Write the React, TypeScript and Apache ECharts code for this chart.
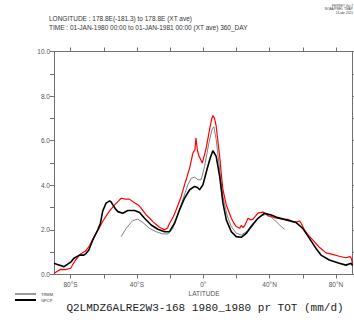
import React, { useEffect, useRef } from "react";
import * as echarts from "echarts";

const modelLat = [-90, -88, -86, -83, -80, -77, -74, -71, -68.5, -66.5, -63, -60.5, -57, -53.5, -51, -49.5, -47, -44.5, -41.5, -39, -37.4, -34.4, -32, -30.4, -28, -26.4, -23.3, -21.5, -20.3, -18, -16.3, -13.3, -11, -10.3, -8.2, -6.2, -5, -4.4, -3.5, -2.5, -0.6, 0.5, 1.8, 3.8, 5, 5.8, 6.8, 7.8, 8.8, 9.9, 11, 11.9, 13.9, 15.5, 16.9, 18.5, 19.9, 21.9, 23, 24, 25, 27, 28.5, 30, 33, 36, 39, 41, 43, 48, 51, 54, 56, 58, 59, 61, 63.5, 66, 68, 70, 74, 78, 82, 86, 88.5, 89.3, 90];
const modelPr = [0.05, 0.15, 0.23, 0.22, 0.28, 0.65, 0.92, 1.05, 1.3, 1.6, 2.05, 2.4, 2.8, 3.12, 3.3, 3.42, 3.38, 3.38, 3.22, 3.1, 2.97, 2.67, 2.5, 2.37, 2.22, 2.12, 2.0, 2.1, 2.3, 2.6, 2.9, 3.5, 4.1, 4.25, 4.78, 5.45, 5.6, 6.13, 5.55, 5.3, 5.0, 5.3, 5.68, 6.5, 6.95, 7.13, 7.0, 6.65, 6.0, 5.3, 4.4, 3.8, 3.12, 2.8, 2.52, 2.3, 2.15, 2.07, 2.2, 2.1, 2.2, 2.52, 2.45, 2.48, 2.75, 2.8, 2.63, 2.6, 2.55, 2.48, 2.47, 2.37, 2.35, 2.4, 2.3, 2.0, 1.75, 1.55, 1.38, 1.22, 0.97, 0.9, 0.82, 0.75, 0.8, 0.72, 0.5];

const gpcpLat = [-90, -88, -86, -84, -82, -79.7, -78, -74.6, -72, -70.6, -69, -66.6, -63.6, -62, -60.6, -58.6, -56.5, -55.5, -54.5, -53, -51.5, -48.5, -45.5, -41.4, -38.4, -35.4, -31.4, -27.4, -23.3, -20.3, -17.3, -14.3, -11.3, -8.2, -5.2, -3.5, -2.2, -0.2, 2.2, 4.2, 5.8, 7.8, 9.9, 11.9, 13.9, 16.9, 19.9, 22.9, 26, 29, 33, 37, 41, 45, 50, 56, 60, 64, 68, 71, 76, 82, 86, 89.3, 90];
const gpcpPr = [0.5, 0.45, 0.4, 0.35, 0.45, 0.57, 0.73, 0.87, 0.87, 0.95, 1.1, 1.55, 2.0, 2.3, 2.85, 3.2, 3.3, 3.25, 3.12, 2.95, 2.82, 2.75, 2.87, 2.87, 2.78, 2.52, 2.22, 2.03, 1.92, 1.92, 2.3, 2.9, 3.42, 3.8, 3.95, 3.9, 3.8, 4.02, 4.7, 5.22, 5.55, 5.3, 4.4, 3.2, 2.45, 1.92, 1.7, 1.67, 1.85, 2.15, 2.52, 2.75, 2.67, 2.55, 2.45, 2.33, 2.07, 1.62, 1.17, 0.87, 0.65, 0.5, 0.42, 0.5, 0.4];

const trmmLat = [-49.5, -46.5, -42.5, -39.4, -36.4, -32.4, -28.4, -24.3, -21.3, -18.3, -15.3, -12.3, -9.3, -7.2, -5.2, -3.2, -1.2, 0.8, 3.4, 5.4, 6.4, 7.8, 9.9, 11.9, 14.3, 16.9, 19.9, 22.9, 26, 30, 34, 38, 41, 44, 47, 49];
const trmmPr = [1.7, 2.07, 2.42, 2.48, 2.33, 2.07, 1.92, 1.82, 1.82, 2.07, 2.67, 3.35, 4.02, 4.32, 4.37, 4.25, 4.25, 4.85, 5.9, 6.53, 6.62, 6.05, 4.7, 3.5, 2.67, 2.15, 1.85, 1.77, 1.92, 2.3, 2.6, 2.7, 2.57, 2.37, 2.15, 2.03];

const xTickValues = [-80, -60, -40, -20, 0, 20, 40, 60, 80];
const xLabelValues = [-80, -40, 0, 40, 80];

const headerLines = [
  "LONGITUDE : 178.8E(-181.3) to 178.8E (XT ave)",
  "TIME : 01-JAN-1980 00:00 to 01-JAN-1981 00:00 (XT ave) 360_DAY",
];
const stampLines = ["FERRET Ver.7", "NOAA/PMEL TMAP", "14-abr-2021"];
const chartTitle = "Q2LMDZ6ALRE2W3-168 1980_1980 pr TOT (mm/d)";
const legendNames = ["TRMM", "GPCP"];

const pairs = (xs: number[], ys: number[]) => xs.map((x, i) => [x, ys[i]]);

const latFmt = (v: number) => {
  if (v === 0) return "0°";
  return Math.abs(v) + "°" + (v < 0 ? "S" : "N");
};

const axisGray = "#707070";
const labelGray = "#555";

export default function App() {
  const ref = useRef<HTMLDivElement>(null);
  useEffect(() => {
    if (!ref.current) return;
    const chart = echarts.init(ref.current, null, { renderer: "svg" });
    const baseX = {
      type: "value" as const,
      min: -90,
      max: 90,
      splitLine: { show: false },
      axisLine: { show: true, onZero: false, lineStyle: { color: axisGray, width: 1 } },
    };
    const baseY = {
      type: "value" as const,
      min: 0,
      max: 10,
      interval: 1,
      splitLine: { show: false },
      axisLine: { show: true, onZero: false, lineStyle: { color: axisGray, width: 1 } },
      axisTick: { show: true, length: 4, lineStyle: { color: axisGray } },
    };
    chart.setOption({
      animation: false,
      backgroundColor: "#fff",
      grid: { left: 54, right: 1.5, top: 51.5, bottom: 45.5 },
      xAxis: [
        {
          ...baseX,
          position: "bottom",
          axisTick: { show: true, length: 4, customValues: xTickValues, lineStyle: { color: axisGray } },
          axisLabel: {
            customValues: xLabelValues,
            formatter: (v: number) => latFmt(v),
            fontSize: 6.5,
            color: labelGray,
            fontFamily: "Liberation Sans",
            margin: 6,
          },
        },
        {
          ...baseX,
          position: "top",
          axisTick: { show: true, length: 4, customValues: xTickValues, lineStyle: { color: axisGray } },
          axisLabel: { show: false },
        },
      ],
      yAxis: [
        {
          ...baseY,
          position: "left",
          axisLabel: {
            formatter: (v: number) => (v % 2 === 0 ? v.toFixed(1) : ""),
            fontSize: 6.5,
            color: labelGray,
            fontFamily: "Liberation Sans",
            margin: 4,
          },
        },
        {
          ...baseY,
          position: "right",
          axisLabel: { show: false },
        },
      ],
      series: [
        {
          name: "MODEL",
          type: "line",
          data: pairs(modelLat, modelPr),
          showSymbol: false,
          lineStyle: { color: "#ff0000", width: 1.2 },
          itemStyle: { color: "#ff0000" },
          z: 3,
        },
        {
          name: legendNames[0],
          type: "line",
          data: pairs(trmmLat, trmmPr),
          showSymbol: false,
          lineStyle: { color: "#606060", width: 0.8 },
          itemStyle: { color: "#606060" },
          z: 4,
        },
        {
          name: legendNames[1],
          type: "line",
          data: pairs(gpcpLat, gpcpPr),
          showSymbol: false,
          lineStyle: { color: "#000", width: 1.6 },
          itemStyle: { color: "#000" },
          z: 5,
        },
      ],
      graphic: [
        ...headerLines.map((t, i) => ({
          type: "text",
          left: 49,
          top: 15 + i * 8.5,
          style: { text: t, fontSize: 6.5, fill: "#333", fontFamily: "Liberation Sans" },
        })),
        ...stampLines.map((t, i) => ({
          type: "text",
          right: 1,
          top: 4 + i * 3.5,
          style: { text: t, fontSize: 3.2, fill: "#444", fontFamily: "Liberation Sans", align: "right" },
        })),
        {
          type: "text",
          x: 204,
          y: 293,
          style: { text: "LATITUDE", fontSize: 6.5, fill: labelGray, fontFamily: "Liberation Sans", align: "center", verticalAlign: "middle" },
        },
        {
          type: "text",
          x: 205,
          y: 308,
          style: { text: chartTitle, fontSize: 11, fill: "#222", fontFamily: "Liberation Mono", align: "center", verticalAlign: "middle" },
        },
        {
          type: "line",
          shape: { x1: 15, y1: 294, x2: 36, y2: 294 },
          style: { stroke: "#000", lineWidth: 0.8 },
        },
        {
          type: "line",
          shape: { x1: 15, y1: 300, x2: 36, y2: 300 },
          style: { stroke: "#000", lineWidth: 2 },
        },
        ...legendNames.map((t, i) => ({
          type: "text",
          x: 41,
          y: 294 + i * 6,
          style: { text: t, fontSize: 4, fill: "#333", fontFamily: "Liberation Sans", verticalAlign: "middle" },
        })),
      ],
    });
    return () => chart.dispose();
  }, []);
  return (
    <div
      ref={ref}
      style={{ position: "fixed", left: 0, top: 0, width: 354, height: 320, background: "#fff" }}
    />
  );
}
